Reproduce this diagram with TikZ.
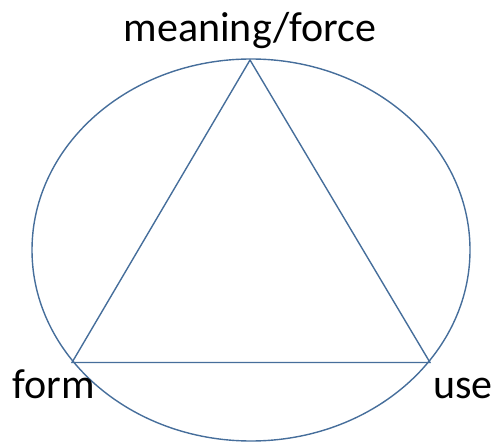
\documentclass[tikz,border=0pt]{standalone}
\usepackage{fontspec}
\setmainfont{Carlito}
\usetikzlibrary{calc, positioning}
\definecolor{edgeblue}{RGB}{70,110,155}

\begin{document}
\begin{tikzpicture}[x=1pt, y=-1pt,
  corner/.style={inner sep=0pt, font=\fontsize{42}{46}\selectfont}]
\def\cx{251}
\def\cy{250}
\def\rx{219}
\def\ry{191}

\useasboundingbox (0,0) rectangle (497,443);

\coordinate (Top) at (250,60);
\coordinate (Left) at (72,362.5);
\coordinate (Right) at (430,362.5);

\draw[edgeblue, line width=1.4pt] (\cx,\cy) ellipse [x radius=\rx, y radius=\ry];
\draw[edgeblue, line width=1.4pt] (Top) -- (Left) -- (Right) -- cycle;

\node[corner, anchor=base] (meaning) at (250,41.5) {meaning/force};
\node[corner, anchor=base west] (form) at (12.5,398) {form};
\node[corner, anchor=base east] (use) at (493,398) {use};
\end{tikzpicture}
\end{document}
